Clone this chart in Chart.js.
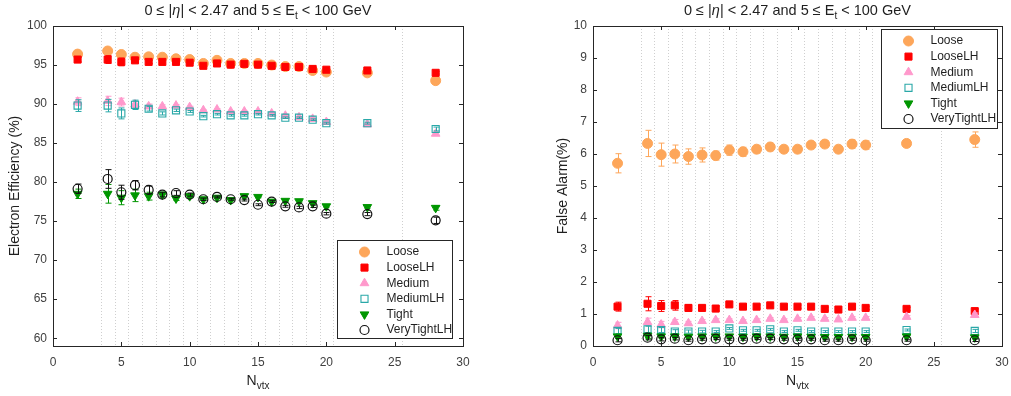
<!DOCTYPE html>
<html>
<head>
<meta charset="utf-8">
<script src="https://cdn.jsdelivr.net/npm/chart.js@4"></script>
<style>
    body { margin: 0; background: #fff; width: 1011px; height: 396px; overflow: hidden; position: relative;
           font-family: 'Liberation Sans', Arial, sans-serif; color: #1f1f1f; }
    .wrap { position: absolute; top: 0; height: 396px; }
    #eff-wrap { left: 0; width: 490px; }
    #fa-wrap { left: 510px; width: 501px; }
    .plot-title, .x-label { position: absolute; text-align: center; white-space: nowrap; line-height: 16px; }
    .plot-title { top: 2px; font-size: 14.5px; }
    .x-label { top: 372px; font-size: 14px; }
    sub { font-size: 10px; vertical-align: -4px; line-height: 0; }
    .eff-pos { left: 53px; width: 410px; }
    .fa-pos { left: 593px; width: 409px; }
</style>
</head>
<body>
<div class="wrap" id="eff-wrap"><canvas id="efficiency-chart"></canvas></div>
<div class="wrap" id="fa-wrap"><canvas id="false-alarm-chart"></canvas></div>

<div class="plot-title eff-pos">0 &le; |<i>&eta;</i>| &lt; 2.47 and 5 &le; E<sub>t</sub> &lt; 100 GeV</div>
<div class="plot-title fa-pos">0 &le; |<i>&eta;</i>| &lt; 2.47 and 5 &le; E<sub>t</sub> &lt; 100 GeV</div>
<div class="x-label eff-pos">N<sub>vtx</sub></div>
<div class="x-label fa-pos">N<sub>vtx</sub></div>

<script>
// Data
const nvtx = [1.8, 4, 5, 6, 7, 8, 9, 10, 11, 12, 13, 14, 15, 16, 17, 18, 19, 20, 23, 28];
const binEdges = [3.5, 4.5, 5.5, 6.5, 7.5, 8.5, 9.5, 10.5, 11.5, 12.5, 13.5, 14.5, 15.5, 16.5, 17.5, 18.5, 19.5, 20.5, 25.5];
const xTicks = [0, 5, 10, 15, 20, 25, 30];
const effTicks = [60, 65, 70, 75, 80, 85, 90, 95, 100];
const faTicks = [0, 1, 2, 3, 4, 5, 6, 7, 8, 9, 10];
const seriesNames = ['Loose', 'LooseLH', 'Medium', 'MediumLH', 'Tight', 'VeryTightLH'];

// Electron efficiency (%)
const effLoose = [96.4, 96.8, 96.35, 96.0, 96.05, 96.0, 95.8, 95.7, 95.2, 95.6, 95.2, 95.2, 95.2, 95.0, 94.8, 94.8, 94.3, 94.1, 94.0, 93.0];
const effLooseLH = [95.7, 95.7, 95.4, 95.6, 95.4, 95.4, 95.4, 95.3, 94.9, 95.2, 95.05, 95.15, 95.05, 94.9, 94.75, 94.75, 94.5, 94.4, 94.3, 94.0];
const effMedium = [90.3, 90.4, 90.25, 89.95, 89.7, 89.7, 89.8, 89.6, 89.2, 89.3, 89.05, 89.05, 89.05, 88.8, 88.5, 88.3, 88.1, 87.7, 87.4, 86.2];
const effMediumLH = [89.8, 89.8, 88.8, 89.9, 89.4, 88.8, 89.2, 89.05, 88.45, 88.7, 88.55, 88.55, 88.7, 88.55, 88.25, 88.25, 88.0, 87.55, 87.55, 86.8];
const effTight = [78.5, 78.5, 78.0, 78.3, 78.2, 78.4, 77.9, 78.2, 77.8, 78.0, 77.7, 78.2, 78.1, 77.5, 77.6, 77.55, 77.3, 76.9, 76.8, 76.7];
const effVeryTightLH = [79.15, 80.4, 78.7, 79.6, 79.0, 78.4, 78.6, 78.4, 77.8, 78.1, 77.8, 77.7, 77.1, 77.5, 76.9, 76.75, 76.9, 75.95, 75.9, 75.1];

const effLooseErr = [0.25, 0.3, 0.25, 0.2, 0.15, 0.12, 0.1, 0.1, 0.1, 0.1, 0.1, 0.1, 0.1, 0.1, 0.1, 0.1, 0.1, 0.1, 0.1, 0.15];
const effLooseLHErr = [0.3, 0.5, 0.5, 0.3, 0.2, 0.15, 0.12, 0.1, 0.1, 0.1, 0.1, 0.1, 0.1, 0.1, 0.1, 0.1, 0.1, 0.1, 0.1, 0.15];
const effMediumErr = [0.5, 0.6, 0.5, 0.4, 0.3, 0.2, 0.15, 0.12, 0.1, 0.1, 0.1, 0.1, 0.1, 0.1, 0.1, 0.1, 0.1, 0.1, 0.12, 0.2];
const effMediumLHErr = [0.75, 0.8, 0.7, 0.6, 0.3, 0.2, 0.15, 0.12, 0.1, 0.1, 0.1, 0.1, 0.1, 0.1, 0.1, 0.1, 0.1, 0.12, 0.12, 0.25];
const effTightErr = [0.6, 1.2, 0.9, 0.8, 0.5, 0.3, 0.25, 0.15, 0.12, 0.1, 0.1, 0.1, 0.1, 0.1, 0.1, 0.1, 0.12, 0.12, 0.15, 0.3];
const effVeryTightLHErr = [0.6, 1.2, 0.9, 0.6, 0.5, 0.3, 0.3, 0.2, 0.15, 0.12, 0.12, 0.12, 0.12, 0.12, 0.12, 0.15, 0.15, 0.15, 0.2, 0.4];

// False alarm (%)
const faLoose = [5.71, 6.33, 5.98, 6.0, 5.92, 5.97, 5.95, 6.12, 6.07, 6.15, 6.22, 6.15, 6.15, 6.28, 6.31, 6.15, 6.31, 6.28, 6.33, 6.45];
const faLooseLH = [1.23, 1.32, 1.25, 1.27, 1.19, 1.19, 1.17, 1.3, 1.23, 1.23, 1.27, 1.23, 1.23, 1.23, 1.16, 1.14, 1.23, 1.19, 1.16, 1.09];
const faMedium = [0.64, 0.75, 0.67, 0.75, 0.71, 0.78, 0.81, 0.81, 0.78, 0.81, 0.85, 0.81, 0.85, 0.88, 0.85, 0.83, 0.88, 0.88, 0.91, 0.97];
const faMediumLH = [0.47, 0.52, 0.5, 0.45, 0.45, 0.45, 0.45, 0.55, 0.49, 0.49, 0.52, 0.45, 0.49, 0.45, 0.45, 0.45, 0.45, 0.45, 0.5, 0.47];
const faTight = [0.3, 0.32, 0.3, 0.3, 0.29, 0.3, 0.3, 0.3, 0.29, 0.3, 0.3, 0.29, 0.3, 0.29, 0.28, 0.28, 0.29, 0.28, 0.3, 0.27];
const faVeryTightLH = [0.18, 0.26, 0.21, 0.23, 0.18, 0.21, 0.23, 0.21, 0.21, 0.23, 0.23, 0.21, 0.21, 0.21, 0.18, 0.18, 0.21, 0.18, 0.18, 0.18];

const faLooseErr = [0.3, 0.41, 0.36, 0.28, 0.24, 0.22, 0.14, 0.16, 0.14, 0.12, 0.12, 0.11, 0.11, 0.11, 0.11, 0.11, 0.13, 0.13, 0.1, 0.24];
const faLooseLHErr = [0.14, 0.22, 0.17, 0.15, 0.1, 0.07, 0.07, 0.06, 0.05, 0.05, 0.05, 0.05, 0.05, 0.05, 0.05, 0.05, 0.05, 0.05, 0.05, 0.07];
const faMediumErr = [0.1, 0.12, 0.1, 0.08, 0.06, 0.05, 0.04, 0.04, 0.04, 0.04, 0.04, 0.04, 0.04, 0.04, 0.04, 0.04, 0.04, 0.04, 0.04, 0.06];
const faMediumLHErr = [0.08, 0.1, 0.08, 0.06, 0.05, 0.04, 0.03, 0.03, 0.03, 0.03, 0.03, 0.03, 0.03, 0.03, 0.03, 0.03, 0.03, 0.03, 0.03, 0.05];
const faTightErr = [0.05, 0.08, 0.05, 0.04, 0.03, 0.03, 0.03, 0.03, 0.03, 0.03, 0.03, 0.03, 0.03, 0.03, 0.03, 0.03, 0.03, 0.03, 0.03, 0.04];
const faVeryTightLHErr = [0.05, 0.07, 0.05, 0.04, 0.03, 0.03, 0.03, 0.03, 0.03, 0.03, 0.03, 0.03, 0.03, 0.03, 0.03, 0.03, 0.03, 0.03, 0.03, 0.04];

// Marker styles, one per menu (same order as seriesNames)
const markerStyles = [
    { pointStyle: 'circle', radius: 5, rotation: 0, fill: '#fda65a', stroke: '#fda65a', width: 1 },
    { pointStyle: 'rect', radius: 5, rotation: 0, fill: '#ff0000', stroke: '#ff0000', width: 1 },
    { pointStyle: 'triangle', radius: 5, rotation: 0, fill: '#ff99cc', stroke: '#ff99cc', width: 1 },
    { pointStyle: 'rect', radius: 5, rotation: 0, fill: 'rgba(0,0,0,0)', stroke: '#2aa8a8', width: 1.1 },
    { pointStyle: 'triangle', radius: 5, rotation: 180, fill: '#009600', stroke: '#009600', width: 1 },
    { pointStyle: 'circle', radius: 4.5, rotation: 0, fill: 'rgba(0,0,0,0)', stroke: '#111111', width: 1.2 }
];

// Chart.js Default Configuration
Chart.defaults.font.family = "'Liberation Sans', Arial, sans-serif";
Chart.defaults.color = '#404040';
Chart.defaults.animation = false;

// Dotted bin-edge grid, drawn behind the markers
const binGridPlugin = {
    id: 'binGrid',
    beforeDatasetsDraw(chart) {
        const { ctx, chartArea, scales } = chart;
        ctx.save();
        ctx.strokeStyle = '#cfcfcf';
        ctx.lineWidth = 1;
        ctx.setLineDash([1, 2]);
        binEdges.forEach((edge) => {
            const px = Math.round(scales.x.getPixelForValue(edge)) + 0.5;
            ctx.beginPath();
            ctx.moveTo(px, chartArea.top);
            ctx.lineTo(px, chartArea.bottom);
            ctx.stroke();
        });
        ctx.restore();
    }
};

// Vertical error bars, drawn just before each dataset's markers
const errorBarPlugin = {
    id: 'errorBars',
    beforeDatasetDraw(chart, args) {
        const ds = chart.data.datasets[args.index];
        if (!ds.errors) return;
        const { ctx, scales } = chart;
        ctx.save();
        ctx.strokeStyle = ds.borderColor;
        ctx.lineWidth = 1;
        ds.data.forEach((pt, i) => {
            const err = ds.errors[i];
            const px = Math.round(scales.x.getPixelForValue(pt.x)) + 0.5;
            const top = scales.y.getPixelForValue(pt.y + err);
            const bot = scales.y.getPixelForValue(pt.y - err);
            ctx.beginPath();
            ctx.moveTo(px, top);
            ctx.lineTo(px, bot);
            ctx.moveTo(px - 3, top);
            ctx.lineTo(px + 3, top);
            ctx.moveTo(px - 3, bot);
            ctx.lineTo(px + 3, bot);
            ctx.stroke();
        });
        ctx.restore();
    }
};

// Axes box with inward tick marks, plus the boxed legend
const frameLegendPlugin = {
    id: 'frameLegend',
    afterDraw(chart, args, opts) {
        const { ctx, chartArea, scales } = chart;
        const { left, right, top, bottom } = chartArea;
        const tick = 4;
        ctx.save();
        ctx.strokeStyle = '#262626';
        ctx.lineWidth = 1;
        ctx.beginPath();
        scales.x.ticks.forEach((t) => {
            const px = Math.round(scales.x.getPixelForValue(t.value)) + 0.5;
            ctx.moveTo(px, bottom);
            ctx.lineTo(px, bottom - tick);
            ctx.moveTo(px, top);
            ctx.lineTo(px, top + tick);
        });
        scales.y.ticks.forEach((t) => {
            const py = Math.round(scales.y.getPixelForValue(t.value)) + 0.5;
            ctx.moveTo(left, py);
            ctx.lineTo(left + tick, py);
            ctx.moveTo(right, py);
            ctx.lineTo(right - tick, py);
        });
        ctx.stroke();
        ctx.strokeRect(Math.round(left) + 0.5, Math.round(top) + 0.5,
            Math.round(right - left), Math.round(bottom - top));

        // Legend box
        const bx = Math.round(right - opts.inset.right - opts.width) + 0.5;
        const by = opts.corner === 'top'
            ? Math.round(top + opts.inset.top) + 0.5
            : Math.round(bottom - opts.inset.bottom - opts.height) + 0.5;
        ctx.fillStyle = '#ffffff';
        ctx.fillRect(bx, by, opts.width, opts.height);
        ctx.strokeStyle = '#262626';
        ctx.strokeRect(bx, by, opts.width, opts.height);

        ctx.font = "12px 'Liberation Sans', Arial, sans-serif";
        ctx.textBaseline = 'middle';
        chart.data.datasets.forEach((ds, i) => {
            const y = by + 11.5 + i * 15.6;
            const m = markerStyles[i];
            ctx.fillStyle = m.fill;
            ctx.strokeStyle = m.stroke;
            ctx.lineWidth = m.width;
            Chart.helpers.drawPoint(ctx, {
                pointStyle: m.pointStyle,
                radius: m.radius,
                rotation: m.rotation,
                borderWidth: m.width
            }, bx + 27, y);
            ctx.fillStyle = '#1f1f1f';
            ctx.fillText(ds.label, bx + 49, y);
        });
        ctx.restore();
    }
};

Chart.register(binGridPlugin, errorBarPlugin, frameLegendPlugin);

// Build scatter datasets from the named arrays
const buildDatasets = (seriesValues, seriesErrors) => seriesValues.map((values, i) => {
    const m = markerStyles[i];
    return {
        label: seriesNames[i],
        data: values.map((v, j) => ({ x: nvtx[j], y: v })),
        errors: seriesErrors[i],
        pointStyle: m.pointStyle,
        pointRadius: m.radius,
        pointHoverRadius: m.radius,
        rotation: m.rotation,
        backgroundColor: m.fill,
        borderColor: m.stroke,
        borderWidth: m.width,
        showLine: false,
        order: seriesValues.length - i // later menus drawn on top
    };
});

const buildOptions = ({ yMin, yMax, yTickValues, yTitle, yWidth, yTitlePad, rightPad, legend }) => ({
    responsive: true,
    maintainAspectRatio: false,
    layout: { padding: { left: 0, top: 26, right: rightPad, bottom: 20 } },
    plugins: {
        legend: { display: false },
        tooltip: { enabled: false },
        frameLegend: legend
    },
    scales: {
        x: {
            type: 'linear',
            min: 0,
            max: 30,
            afterBuildTicks: (scale) => { scale.ticks = xTicks.map((v) => ({ value: v })); },
            afterFit: (scale) => {
                scale.height = 30;
                scale.paddingLeft = 0;
                scale.paddingRight = 0;
            },
            grid: { display: false, drawTicks: false },
            border: { display: false },
            ticks: { font: { size: 12 }, padding: 9, color: '#404040', maxRotation: 0 }
        },
        y: {
            type: 'linear',
            min: yMin,
            max: yMax,
            afterBuildTicks: (scale) => { scale.ticks = yTickValues.map((v) => ({ value: v })); },
            afterFit: (scale) => {
                scale.width = yWidth;
                scale.paddingTop = 0;
                scale.paddingBottom = 0;
            },
            grid: { display: false, drawTicks: false },
            border: { display: false },
            ticks: { font: { size: 12 }, padding: 6, color: '#404040' },
            title: {
                display: true,
                text: yTitle,
                color: '#1f1f1f',
                font: { size: 14 },
                padding: { top: yTitlePad, bottom: 0 }
            }
        }
    }
});

// Initialize Charts
const initializeCharts = () => {
    const effCanvas = document.getElementById('efficiency-chart');
    if (effCanvas) {
        new Chart(effCanvas.getContext('2d'), {
            type: 'scatter',
            data: {
                datasets: buildDatasets(
                    [effLoose, effLooseLH, effMedium, effMediumLH, effTight, effVeryTightLH],
                    [effLooseErr, effLooseLHErr, effMediumErr, effMediumLHErr, effTightErr, effVeryTightLHErr]
                )
            },
            options: buildOptions({
                yMin: 59,
                yMax: 100,
                yTickValues: effTicks,
                yTitle: 'Electron Efficiency (%)',
                yWidth: 53,
                yTitlePad: 6.6,
                rightPad: 27,
                legend: { corner: 'bottom', inset: { right: 11, bottom: 8 }, width: 115, height: 98 }
            })
        });
    }

    const faCanvas = document.getElementById('false-alarm-chart');
    if (faCanvas) {
        new Chart(faCanvas.getContext('2d'), {
            type: 'scatter',
            data: {
                datasets: buildDatasets(
                    [faLoose, faLooseLH, faMedium, faMediumLH, faTight, faVeryTightLH],
                    [faLooseErr, faLooseLHErr, faMediumErr, faMediumLHErr, faTightErr, faVeryTightLHErr]
                )
            },
            options: buildOptions({
                yMin: 0,
                yMax: 10,
                yTickValues: faTicks,
                yTitle: 'False Alarm(%)',
                yWidth: 83,
                yTitlePad: 45,
                rightPad: 9,
                legend: { corner: 'top', inset: { right: 5, top: 3 }, width: 116, height: 99 }
            })
        });
    }
};

document.addEventListener('DOMContentLoaded', () => {
    initializeCharts();
});
</script>
</body>
</html>
